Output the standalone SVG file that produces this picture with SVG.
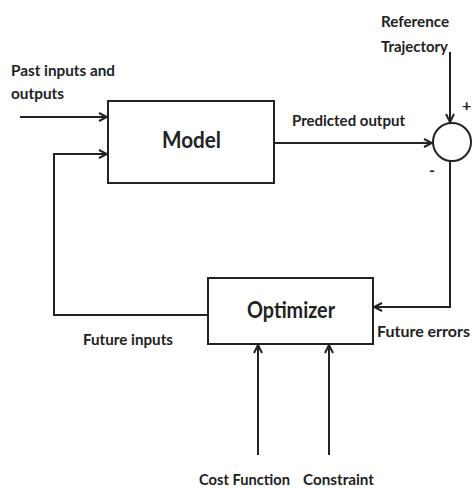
<svg xmlns="http://www.w3.org/2000/svg" width="474" height="489" viewBox="0 0 474 489">
<defs>
<marker id="ah" viewBox="0 0 10 10" refX="9" refY="5" markerWidth="10" markerHeight="10" markerUnits="userSpaceOnUse" orient="auto">
<path d="M1,1 L9,5 L1,9" fill="none" stroke="#222" stroke-width="2"/>
</marker>
</defs>
<style>
.box{fill:#fff;stroke:#222;stroke-width:2}
.ln{fill:none;stroke:#222;stroke-width:2}
.t{font-family:Lato,"Open Sans","Liberation Sans",sans-serif;font-weight:bold;fill:#222;font-size:16px}
.big{font-size:23px}
</style>
<rect width="474" height="489" fill="#fff"/>
<g id="connectors">
<line class="ln" x1="20" y1="117" x2="107" y2="117" marker-end="url(#ah)"/>
<polyline class="ln" points="208,315 54,315 54,154 107,154" marker-end="url(#ah)"/>
<line class="ln" x1="274" y1="143" x2="432" y2="143" marker-end="url(#ah)"/>
<line class="ln" x1="450" y1="52" x2="450" y2="122" marker-end="url(#ah)"/>
<polyline class="ln" points="450,161 450,307 374,307" marker-end="url(#ah)"/>
<line class="ln" x1="258" y1="455" x2="258" y2="345" marker-end="url(#ah)"/>
<line class="ln" x1="329" y1="455" x2="329" y2="345" marker-end="url(#ah)"/>
</g>
<g id="model">
<rect class="box" x="108" y="101" width="166" height="82"/>
<text class="t big" x="162" y="148" textLength="59" lengthAdjust="spacingAndGlyphs">Model</text>
</g>
<g id="optimizer">
<rect class="box" x="208" y="278" width="165" height="66"/>
<text class="t big" x="247" y="318" textLength="88" lengthAdjust="spacingAndGlyphs">Optimizer</text>
</g>
<g id="sum">
<circle class="box" cx="452" cy="142" r="19"/>
<text class="t" x="462" y="111" font-size="12">+</text>
<text class="t" x="429" y="176" font-size="12">-</text>
</g>
<g id="labels">
<text class="t" x="11" y="76" textLength="104" lengthAdjust="spacingAndGlyphs">Past inputs and</text>
<text class="t" x="11" y="99" textLength="53" lengthAdjust="spacingAndGlyphs">outputs</text>
<text class="t" x="292" y="126" textLength="113" lengthAdjust="spacingAndGlyphs">Predicted output</text>
<text class="t" x="381" y="27" textLength="68" lengthAdjust="spacingAndGlyphs">Reference</text>
<text class="t" x="381" y="52" textLength="67" lengthAdjust="spacingAndGlyphs">Trajectory</text>
<text class="t" x="83" y="345" textLength="90" lengthAdjust="spacingAndGlyphs">Future inputs</text>
<text class="t" x="470" y="337" font-size="14" text-anchor="end">Future errors</text>
<text class="t" x="199" y="485" textLength="91" lengthAdjust="spacingAndGlyphs">Cost Function</text>
<text class="t" x="303" y="485" textLength="71" lengthAdjust="spacingAndGlyphs">Constraint</text>
</g>
</svg>
